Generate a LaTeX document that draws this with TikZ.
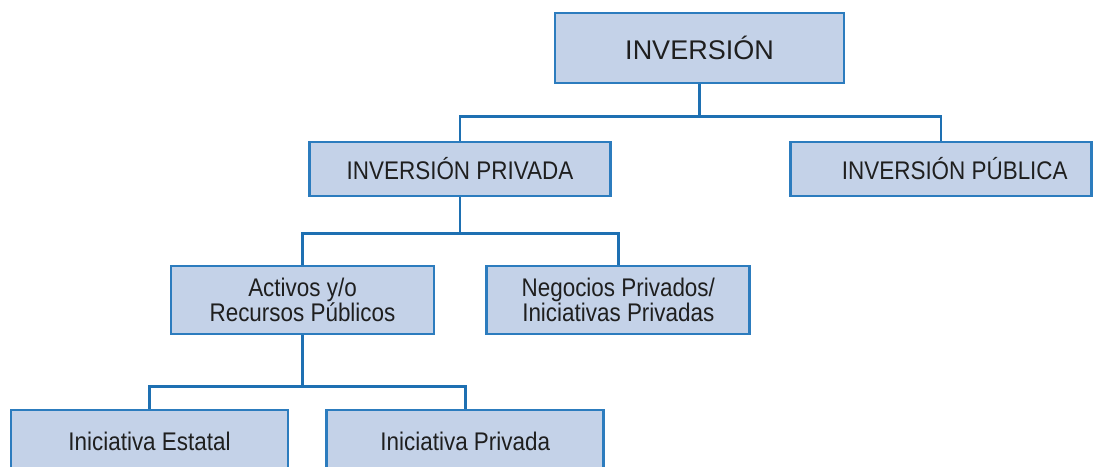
\documentclass[tikz,border=0pt]{standalone}
\usepackage{fontspec}
\setmainfont{Liberation Sans}
\newfontfamily\narrowsf{Liberation Sans}[FakeStretch=0.88]
\usetikzlibrary{positioning}
\definecolor{boxfill}{RGB}{196,210,232}
\definecolor{boxline}{RGB}{44,124,190}
\definecolor{linkline}{RGB}{30,112,178}
\tikzset{
    %Define style for boxes
    level/.style={
           rectangle,
           draw=boxline, line width=2.8pt,
           fill=boxfill,
           text=black!88,
           align=center,
           inner sep=0pt,
           },
    toplevel/.style={
           level,
           font=\fontsize{27}{30}\selectfont,
           minimum width=289pt,
           minimum height=70pt,
           },
    midlevel/.style={
           level,
           font=\narrowsf\fontsize{25.5}{28}\selectfont,
           minimum width=301pt,
           minimum height=54pt,
           },
    lowlevel/.style={
           level,
           font=\narrowsf\fontsize{25.5}{25}\selectfont,
           minimum width=263pt,
           minimum height=68pt,
           },
    leaflevel/.style={
           lowlevel,
           minimum width=277pt,
           minimum height=62pt,
           },
    % Define connector style
    link/.style={
           draw=linkline,
           line width=2.6pt,},
}
\begin{document}
\begin{tikzpicture}[x=1pt,y=1pt]
\useasboundingbox (0,0) rectangle (1095,466);

 %nodes
\node[toplevel] (inv) at (699.5,418) {INVERSIÓN};
\node[midlevel] (priv) at (460,297) {INVERSIÓN PRIVADA};
\node[midlevel, right=177pt of priv] (pub) {\hspace*{28pt}INVERSIÓN PÚBLICA};
\node[lowlevel] (act) at (302.5,166) {Activos y/o\\Recursos Públicos};
\node[lowlevel, right=50pt of act] (neg) {Negocios Privados/\\Iniciativas Privadas};
\node[leaflevel] (est) at (149.5,25) {Iniciativa Estatal};
\node[leaflevel, right=36pt of est] (ipr) {Iniciativa Privada};

 %junctions
\coordinate[below=32pt of inv.south] (j1);
\coordinate[below=36pt of priv.south] (j2);
\coordinate[below=51pt of act.south] (j3);

 %connectors
\draw[link] (inv.south) -- (j1) -| (priv.north);
\draw[link] (j1) -| (pub.north);
\draw[link] (priv.south) -- (j2) -| (act.north);
\draw[link] (j2) -| (neg.north);
\draw[link] (act.south) -- (j3) -| (est.north);
\draw[link] (j3) -| (ipr.north);

\end{tikzpicture}
\end{document}
